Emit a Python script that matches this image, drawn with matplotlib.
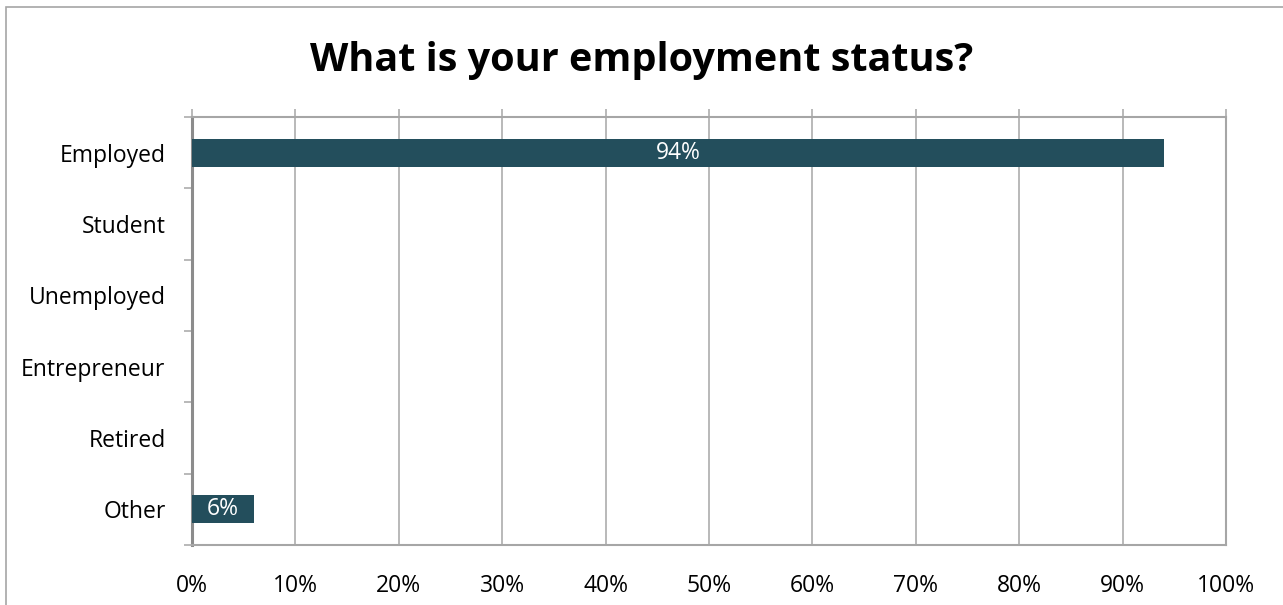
import matplotlib
matplotlib.use("agg")
import matplotlib.pyplot as plt
from matplotlib.patches import Rectangle
from matplotlib.ticker import FixedLocator, PercentFormatter

# survey answers, top to bottom
categories = ["Employed", "Student", "Unemployed", "Entrepreneur", "Retired", "Other"]
shares = [94, 0, 0, 0, 0, 6]
x_ticks = list(range(0, 101, 10))

bar_color = "#234E5C"
grid_color = "#A6A6A6"
axis_color = "#8C8C8C"

plt.rcParams['font.family'] = ['Open Sans', 'DejaVu Sans']

fig = plt.figure(figsize=(12.83, 6.05), dpi=100)
ax = fig.add_axes([192 / 1283, 60 / 605, 1034 / 1283, 428 / 605])

ypos = list(range(len(categories)))
bars = ax.barh(ypos, shares, height=0.39, color=bar_color, zorder=3)

# data labels only for the non-empty bars
for b, v in zip(bars, shares):
    if v > 0:
        ax.text(b.get_x() + b.get_width() / 2, b.get_y() + b.get_height() / 2,
                "%d%%" % v, color="white", ha="center", va="center",
                fontsize=16.5, zorder=4)

ax.set_xlim(0, 100)
ax.set_ylim(len(categories) - 0.5, -0.5)
ax.set_xticks(x_ticks)
ax.xaxis.set_major_formatter(PercentFormatter(decimals=0))
ax.set_yticks(ypos)
ax.set_yticklabels(categories)
ax.yaxis.set_minor_locator(FixedLocator([i - 0.5 for i in range(len(categories) + 1)]))

ax.grid(axis="x", color=grid_color, linewidth=1.1, zorder=0)
ax.tick_params(axis="x", top=True, bottom=False, labeltop=False, labelbottom=True,
               direction="out", length=6, width=1.1, color=grid_color,
               labelsize=16.5, pad=15)
ax.tick_params(axis="y", which="major", length=0, labelsize=16.5, pad=19)
ax.tick_params(axis="y", which="minor", length=6, width=1.1, color=grid_color)

for side in ["top", "right", "bottom"]:
    ax.spines[side].set_color(grid_color)
    ax.spines[side].set_linewidth(1.5)
ax.spines["left"].set_color(axis_color)
ax.spines["left"].set_linewidth(2.2)

fig.text(641.5 / 1283, 1 - 71 / 605, "What is your employment status?",
         ha="center", va="baseline", fontsize=28.5, fontweight="bold")

# outer chart border (only top/left edges are visible in the crop)
fig.patches.append(Rectangle((5.5 / 1283, -0.1), 2, 1 - 6.5 / 605 + 0.1,
                             transform=fig.transFigure, fill=False,
                             edgecolor="#A6A6A6", linewidth=1.2))

fig.savefig("out.png", dpi=100)
plt.close(fig)
